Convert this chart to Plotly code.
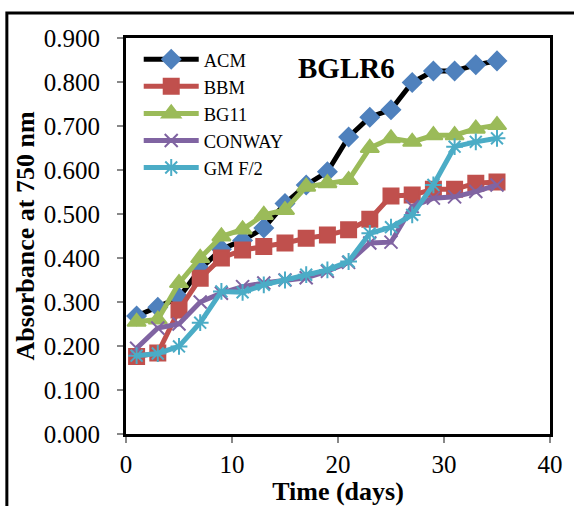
import plotly.graph_objects as go

days = [1, 3, 5, 7, 9, 11, 13, 15, 17, 19, 21, 23, 25, 27, 29, 31, 33, 35]
acm = [0.268, 0.288, 0.310, 0.375, 0.420, 0.440, 0.468, 0.524, 0.566, 0.596, 0.675, 0.720, 0.737, 0.799, 0.825, 0.825, 0.839, 0.848]
bbm = [0.176, 0.184, 0.282, 0.354, 0.400, 0.418, 0.426, 0.434, 0.445, 0.452, 0.464, 0.488, 0.541, 0.543, 0.556, 0.556, 0.570, 0.573]
bg11 = [0.255, 0.260, 0.343, 0.400, 0.449, 0.465, 0.498, 0.509, 0.562, 0.570, 0.577, 0.650, 0.672, 0.664, 0.679, 0.679, 0.694, 0.702]
conway = [0.195, 0.241, 0.250, 0.300, 0.320, 0.335, 0.343, 0.350, 0.355, 0.370, 0.390, 0.434, 0.436, 0.517, 0.536, 0.539, 0.551, 0.566]
gmf2 = [0.178, 0.183, 0.199, 0.253, 0.324, 0.322, 0.339, 0.350, 0.362, 0.373, 0.392, 0.456, 0.470, 0.498, 0.566, 0.653, 0.664, 0.672]

series = [
    ("ACM", acm, "black", "#4F81BD", "diamond", 14),
    ("BBM", bbm, "#C0504D", "#C0504D", "square", 15),
    ("BG11", bg11, "#9BBB59", "#9BBB59", "triangle-up", 16),
    ("CONWAY", conway, "#8064A2", "#8064A2", "x-thin", 13),
    ("GM F/2", gmf2, "#4BACC6", "#4BACC6", "asterisk", 14),
]

font = "Liberation Serif, Times New Roman, serif"
fig = go.Figure()
for name, vals, lc, mc, sym, sz in series:
    fig.add_trace(go.Scatter(
        x=days, y=vals, name=name, mode="lines+markers",
        line=dict(color=lc, width=5),
        marker=dict(symbol=sym, size=sz, color=mc, line=dict(color=mc, width=2)),
    ))

fig.update_layout(
    width=574, height=506,
    margin=dict(l=126, r=24, t=38, b=72),
    paper_bgcolor="white", plot_bgcolor="white",
    font=dict(family=font, color="black", size=24),
    showlegend=True,
    legend=dict(x=0.03, y=0.993, xanchor="left", yanchor="top",
                font=dict(size=18.5, family=font), bgcolor="rgba(0,0,0,0)",
                itemwidth=55, tracegroupgap=0),
    xaxis=dict(range=[0, 40], tickvals=[0, 10, 20, 30, 40], showgrid=False, zeroline=False,
               automargin=False,
               showline=True, linecolor="black", linewidth=3, mirror=True,
               ticks="outside", ticklen=6, tickcolor="#888888", tickwidth=1.5,
               tickfont=dict(size=25, family=font), ticklabelstandoff=0,
               title=dict(text="<b>Time (days)</b>", font=dict(size=26, family=font), standoff=0)),
    yaxis=dict(range=[0, 0.9], tickvals=[0, 0.1, 0.2, 0.3, 0.4, 0.5, 0.6, 0.7, 0.8, 0.9],
               tickformat=".3f", showgrid=False, zeroline=False,
               automargin=False,
               showline=True, linecolor="black", linewidth=3, mirror=True,
               ticks="outside", ticklen=6, tickcolor="#888888", tickwidth=1.5,
               tickfont=dict(size=25, family=font), ticklabelstandoff=12,
               title=dict(text="<b>Absorbance at 750 nm</b>", font=dict(size=26, family=font), standoff=2)),
    annotations=[dict(text="<b>BGLR6</b>", x=0.52, y=0.925, xref="paper", yref="paper",
                      xanchor="center", yanchor="middle", showarrow=False,
                      font=dict(size=29, family=font))],
    shapes=[dict(type="rect", xref="paper", yref="paper", x0=-0.281, x1=1.3, y0=-0.4, y1=1.063,
                 line=dict(color="black", width=3), fillcolor="rgba(0,0,0,0)", layer="below")],
)

fig.write_html("out.html")
